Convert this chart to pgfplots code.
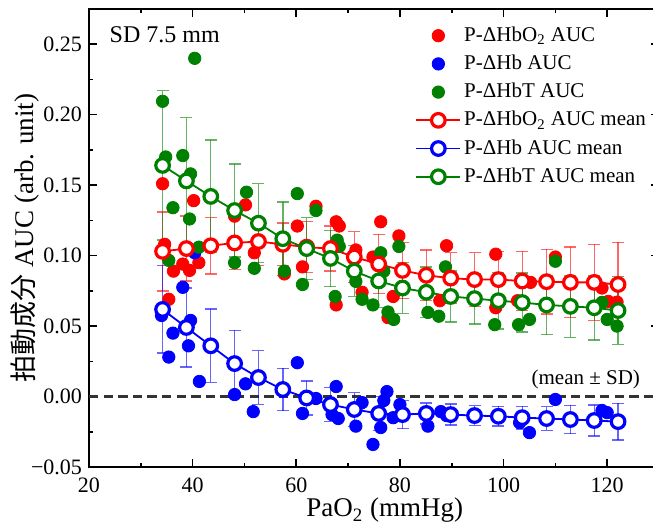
\documentclass[border=0pt]{standalone}
\usepackage{pgfplots}
\usepackage{pgfplotstable}
\pgfplotsset{compat=1.18}
\usepackage{fontspec}
\setmainfont{Liberation Serif}
\newfontfamily\cjk{Noto Sans CJK JP}

\definecolor{pred}{RGB}{255,0,0}
\definecolor{pblue}{RGB}{0,0,255}
\definecolor{pgreen}{RGB}{0,128,0}

\pgfplotstableread{
x y
34.2 0.151
34.6 0.108
35.4 0.069
36.3 0.089
38.1 0.094
39.4 0.0895
40.2 0.139
41.2 0.095
48.1 0.128
50.2 0.136
51.9 0.102
57.7 0.087
60.2 0.121
61.2 0.092
63.8 0.135
67.7 0.124
68.3 0.121
67.7 0.065
71.5 0.104
72.7 0.074
74.8 0.099
75.8 0.095
76.3 0.124
77.7 0.056
78.7 0.071
79.8 0.114
87.7 0.068
89.0 0.107
98.5 0.101
98.5 0.063
102.7 0.068
105.2 0.081
110.0 0.099
119.0 0.077
120.2 0.0675
121.9 0.067
}\redpts

\pgfplotstableread{
x y
34.0 0.0575
35.4 0.028
36.2 0.045
38.1 0.0775
39.2 0.036
39.6 0.054
40.4 0.102
41.3 0.0107
48.1 0.0014
50.2 0.009
51.7 -0.0107
60.2 0.024
61.2 -0.012
63.8 -0.0014
67.7 0.0071
66.9 -0.0128
68.1 -0.0156
71.5 -0.021
72.7 -0.0043
74.8 -0.034
76.3 -0.022
77.5 0.0035
76.9 -0.0028
78.7 -0.015
80.0 -0.0057
85.4 -0.021
87.9 -0.0107
89.0 -0.0135
103.1 -0.0185
105.0 -0.0256
110.0 -0.0021
119.0 -0.0099
120.0 -0.0114
}\bluepts

\pgfplotstableread{
x y
34.2 0.2095
40.4 0.240
34.8 0.170
38.1 0.171
39.6 0.158
36.2 0.134
39.4 0.126
35.4 0.0966
41.2 0.106
50.4 0.145
48.1 0.095
51.9 0.091
57.7 0.089
60.2 0.144
61.2 0.0795
63.8 0.132
67.9 0.111
68.3 0.1065
67.5 0.071
71.5 0.0817
72.7 0.069
74.8 0.065
76.3 0.102
76.9 0.089
77.7 0.060
78.8 0.0547
79.8 0.1065
85.4 0.0597
87.5 0.057
88.8 0.092
98.3 0.051
102.9 0.051
105.0 0.0547
110.0 0.096
119.0 0.0668
120.0 0.0547
121.9 0.050
}\greenpts

\pgfplotstableread{
x y e
34.2 0.103 0.028
38.8 0.105 0.023
43.5 0.107 0.020
48.1 0.109 0.019
52.7 0.110 0.017
57.4 0.108 0.015
62.0 0.106 0.018
66.6 0.105 0.016
71.2 0.099 0.018
75.9 0.094 0.021
80.5 0.0895 0.020
85.1 0.086 0.018
89.8 0.084 0.018
94.4 0.083 0.019
99.0 0.083 0.020
103.6 0.082 0.021
108.3 0.0815 0.023
112.9 0.081 0.025
117.5 0.081 0.027
122.1 0.0795 0.030
}\redmean

\pgfplotstableread{
x y e
34.2 0.0618 0.031
38.8 0.049 0.028
43.5 0.036 0.026
48.1 0.0234 0.0235
52.7 0.0135 0.019
57.4 0.005 0.015
62.0 -0.001 0.012
66.6 -0.0057 0.012
71.2 -0.0092 0.012
75.9 -0.012 0.012
80.5 -0.0128 0.010
85.1 -0.012 0.0075
89.8 -0.0128 0.0075
94.4 -0.0135 0.007
99.0 -0.014 0.007
103.6 -0.015 0.008
108.3 -0.0156 0.0085
112.9 -0.0163 0.010
117.5 -0.017 0.011
122.1 -0.0178 0.013
}\bluemean

\pgfplotstableread{
x y e
34.2 0.164 0.053
38.8 0.153 0.045
43.5 0.142 0.040
48.1 0.132 0.033
52.7 0.123 0.028
57.4 0.112 0.026
62.0 0.105 0.022
66.6 0.098 0.020
71.2 0.089 0.018
75.9 0.082 0.019
80.5 0.077 0.018
85.1 0.074 0.018
89.8 0.071 0.018
94.4 0.0695 0.018
99.0 0.068 0.020
103.6 0.0667 0.021
108.3 0.065 0.021
112.9 0.064 0.022
117.5 0.063 0.023
122.1 0.061 0.024
}\greenmean

\pgfplotsset{
  scat/.style={only marks, mark=*, mark size=3.1pt, color=#1, mark options={draw=none, fill=#1}},
  meanplot/.style={color=#1, line width=0.9pt, mark=*, mark size=3.4pt,
    mark options={fill=white, draw=#1, line width=1.6pt, solid},
    error bars/.cd, y dir=both, y explicit,
    error bar style={line width=0.7pt, opacity=0.6},
    error mark options={rotate=90, mark size=3pt, line width=0.7pt, opacity=0.6}},
}

\begin{document}
\begin{tikzpicture}
\begin{axis}[
  scale only axis, width=285pt, height=229pt,
  xmin=20, xmax=130, ymin=-0.05, ymax=0.275,
  xtick={20,40,60,80,100,120}, minor x tick num=1,
  ytick={-0.05,0,0.05,0.1,0.15,0.2,0.25},
  yticklabels={−0.05,0.00,0.05,0.10,0.15,0.20,0.25},
  minor y tick num=1,
  tick align=inside,
  major tick length=4pt, minor tick length=2.2pt,
  every tick/.append style={black, line width=0.8pt},
  axis line style={line width=0.9pt},
  tick label style={font=\fontsize{11}{13}\selectfont},
  xticklabel style={yshift=-2pt},
  /pgf/number format/assume math mode=true,
  xlabel={PaO\textsubscript{2} (mmHg)},
  ylabel={{\cjk 拍動成分} AUC (arb. unit)},
  label style={font=\fontsize{13.5}{15}\selectfont},
  xlabel style={at={(axis description cs:0.519,-0.095)}, anchor=center},
  ylabel style={at={(axis description cs:-0.112,0.5)}, anchor=center},
  legend image code/.code={\draw[mark repeat=2,mark phase=2,#1] plot coordinates {(0pt,0pt) (11pt,0pt) (22pt,0pt)};},
  legend style={at={(axis description cs:0.572,0.972)}, anchor=north west, draw=none, fill=none,
    font=\fontsize{10.5}{12}\selectfont, inner sep=0pt, row sep=0.6pt,
    nodes={inner sep=1.5pt, text height=8pt, text depth=2.5pt}},
  legend cell align=left,
]
\addplot[color=black!80, line width=1.2pt, dash pattern=on 4.7pt off 2.6pt, forget plot] coordinates {(20,0) (130,0)};

\addplot[scat=pred] table[x=x,y=y] {\redpts};
\addlegendentry{P-ΔHbO\textsubscript{2} AUC}
\addplot[scat=pblue] table[x=x,y=y] {\bluepts};
\addlegendentry{P-ΔHb AUC}
\addplot[scat=pgreen] table[x=x,y=y] {\greenpts};
\addlegendentry{P-ΔHbT AUC}

\addplot[meanplot=pred] table[x=x,y=y,y error=e] {\redmean};
\addlegendentry{P-ΔHbO\textsubscript{2} AUC mean}
\addplot[meanplot=pblue] table[x=x,y=y,y error=e] {\bluemean};
\addlegendentry{P-ΔHb AUC mean}
\addplot[meanplot=pgreen] table[x=x,y=y,y error=e] {\greenmean};
\addlegendentry{P-ΔHbT AUC mean}

\node[anchor=west, font=\fontsize{12}{14}\selectfont] at (axis description cs:0.024,0.944) {SD 7.5 mm};
\node[anchor=east, font=\fontsize{10.5}{12}\selectfont] at (axis description cs:0.979,0.192) {(mean ± SD)};
\end{axis}
\pgfresetboundingbox
\path (-44.5pt,-28.5pt) rectangle (282pt,233.5pt);
\end{tikzpicture}
\end{document}
